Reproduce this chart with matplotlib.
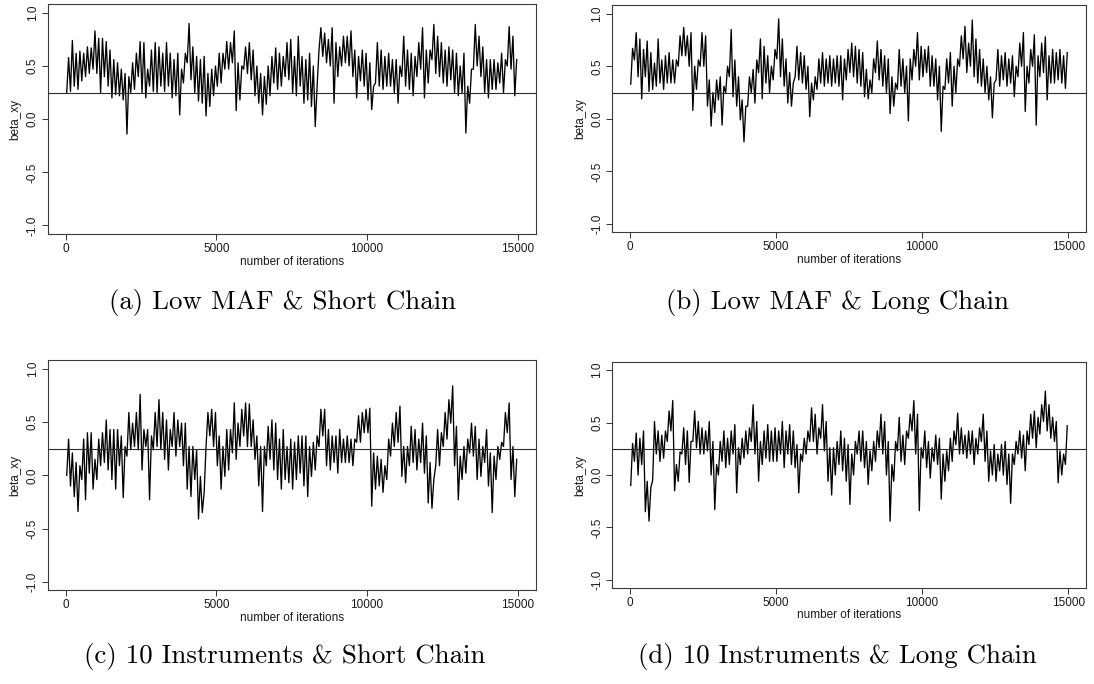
import numpy as np
import matplotlib
matplotlib.use("Agg")
import matplotlib.pyplot as plt

plt.rcParams['font.family'] = ['Liberation Sans', 'DejaVu Sans']

# ---- data: per 125-iteration window, lowest and highest value of the chain ----
bin_start = list(range(0, 15000, 125))

a_low = [0.25, 0.26, 0.31, 0.28, 0.36, 0.40, 0.43, 0.47, 0.43, 0.25,
         0.40, 0.31, 0.20, 0.23, 0.22, 0.18, -0.14, 0.25, 0.28, 0.40,
         0.25, 0.20, 0.31, 0.26, 0.25, 0.31, 0.26, 0.31, 0.20, 0.22,
         0.04, 0.34, 0.53, 0.37, 0.25, 0.17, 0.15, 0.03, 0.12, 0.22,
         0.31, 0.34, 0.47, 0.47, 0.53, 0.08, 0.18, 0.47, 0.43, 0.37,
         0.22, 0.15, 0.04, 0.14, 0.22, 0.34, 0.28, 0.31, 0.40, 0.37,
         0.25, 0.22, 0.31, 0.15, 0.18, 0.12, -0.07, 0.65, 0.59, 0.53,
         0.50, 0.15, 0.40, 0.50, 0.53, 0.50, 0.40, 0.20, 0.36, 0.31,
         0.18, 0.09, 0.34, 0.31, 0.28, 0.31, 0.31, 0.25, 0.15, 0.40,
         0.31, 0.28, 0.22, 0.40, 0.47, 0.20, 0.34, 0.56, 0.43, 0.40,
         0.34, 0.31, 0.37, 0.25, 0.22, 0.25, -0.13, 0.15, 0.47, 0.50,
         0.40, 0.25, 0.20, 0.28, 0.28, 0.34, 0.25, 0.50, 0.47, 0.22]
a_high = [0.58, 0.74, 0.62, 0.64, 0.62, 0.68, 0.67, 0.83, 0.76, 0.76,
          0.73, 0.65, 0.56, 0.53, 0.47, 0.43, 0.40, 0.53, 0.62, 0.73,
          0.72, 0.47, 0.65, 0.72, 0.68, 0.62, 0.72, 0.62, 0.56, 0.62,
          0.47, 0.62, 0.90, 0.68, 0.59, 0.56, 0.59, 0.43, 0.47, 0.50,
          0.62, 0.62, 0.73, 0.72, 0.83, 0.53, 0.50, 0.68, 0.72, 0.65,
          0.50, 0.43, 0.40, 0.50, 0.59, 0.67, 0.62, 0.59, 0.72, 0.75,
          0.59, 0.78, 0.59, 0.56, 0.62, 0.50, 0.31, 0.86, 0.81, 0.75,
          0.86, 0.72, 0.68, 0.78, 0.78, 0.83, 0.65, 0.59, 0.65, 0.62,
          0.53, 0.31, 0.72, 0.65, 0.59, 0.62, 0.56, 0.56, 0.50, 0.78,
          0.65, 0.62, 0.59, 0.72, 0.86, 0.65, 0.65, 0.89, 0.78, 0.72,
          0.65, 0.68, 0.65, 0.62, 0.50, 0.62, 0.31, 0.47, 0.89, 0.78,
          0.68, 0.56, 0.56, 0.56, 0.53, 0.62, 0.56, 0.87, 0.78, 0.56]

b_low = [0.33, 0.56, 0.40, 0.19, 0.40, 0.26, 0.28, 0.31, 0.34, 0.28,
         0.34, 0.34, 0.34, 0.50, 0.60, 0.60, 0.50, 0.08, 0.28, 0.50,
         0.50, 0.12, -0.07, 0.06, 0.18, -0.06, 0.25, 0.40, 0.21, 0.12,
         -0.01, -0.22, 0.12, 0.25, 0.15, 0.44, 0.19, 0.34, 0.25, 0.37,
         0.57, 0.40, 0.31, 0.15, 0.12, 0.40, 0.37, 0.34, 0.28, 0.02,
         0.18, 0.28, 0.34, 0.31, 0.34, 0.31, 0.34, 0.31, 0.18, 0.37,
         0.44, 0.40, 0.34, 0.31, 0.21, 0.19, 0.25, 0.44, 0.37, 0.31,
         0.25, 0.05, 0.12, 0.28, 0.31, 0.25, -0.02, 0.37, 0.50, 0.37,
         0.40, 0.44, 0.31, 0.31, 0.18, -0.12, 0.28, 0.34, 0.12, 0.25,
         0.50, 0.57, 0.44, 0.50, 0.40, 0.34, 0.31, 0.25, 0.18, 0.01,
         0.37, 0.31, 0.37, 0.31, 0.34, 0.21, 0.40, 0.50, 0.07, 0.34,
         0.50, -0.06, 0.40, 0.44, 0.18, 0.34, 0.34, 0.37, 0.34, 0.29]
b_high = [0.67, 0.82, 0.76, 0.66, 0.74, 0.63, 0.53, 0.76, 0.56, 0.60,
          0.63, 0.56, 0.56, 0.79, 0.87, 0.79, 0.82, 0.50, 0.56, 0.82,
          0.79, 0.37, 0.25, 0.37, 0.40, 0.31, 0.50, 0.85, 0.56, 0.40,
          0.18, 0.12, 0.40, 0.47, 0.56, 0.76, 0.69, 0.60, 0.50, 0.66,
          0.95, 0.76, 0.57, 0.44, 0.34, 0.69, 0.63, 0.60, 0.50, 0.34,
          0.40, 0.57, 0.63, 0.57, 0.60, 0.57, 0.60, 0.60, 0.57, 0.66,
          0.72, 0.69, 0.66, 0.63, 0.47, 0.37, 0.57, 0.74, 0.66, 0.60,
          0.57, 0.40, 0.34, 0.66, 0.57, 0.50, 0.57, 0.66, 0.82, 0.69,
          0.66, 0.69, 0.60, 0.57, 0.50, 0.31, 0.57, 0.63, 0.50, 0.57,
          0.79, 0.88, 0.72, 0.94, 0.76, 0.66, 0.57, 0.50, 0.40, 0.34,
          0.66, 0.60, 0.63, 0.57, 0.60, 0.50, 0.72, 0.82, 0.50, 0.66,
          0.80, 0.60, 0.72, 0.78, 0.60, 0.66, 0.63, 0.66, 0.60, 0.63]

c_low = [0.00, -0.10, -0.20, -0.34, -0.04, -0.23, 0.02, -0.13, -0.04, 0.09,
         0.12, 0.05, -0.04, -0.13, 0.09, -0.21, 0.18, 0.24, 0.27, 0.24,
         0.05, 0.27, -0.23, 0.24, 0.27, 0.24, 0.15, 0.05, 0.27, 0.18,
         0.27, 0.09, -0.13, -0.20, -0.04, -0.41, -0.35, 0.27, 0.37, 0.27,
         0.09, -0.13, -0.01, 0.05, 0.21, 0.15, 0.27, 0.37, 0.27, 0.27,
         0.15, -0.10, -0.34, 0.09, 0.15, 0.05, -0.04, -0.13, -0.04, -0.07,
         -0.13, -0.04, 0.02, -0.10, -0.20, -0.01, 0.05, 0.27, 0.37, 0.09,
         0.05, 0.12, 0.02, 0.12, 0.12, 0.12, 0.09, 0.31, 0.31, 0.40,
         0.40, -0.29, -0.13, -0.10, -0.16, -0.04, 0.18, 0.27, 0.31, -0.01,
         -0.07, 0.09, 0.12, 0.05, 0.12, 0.02, -0.26, -0.31, 0.09, 0.09,
         0.27, 0.34, 0.49, 0.09, -0.23, -0.04, 0.02, 0.21, 0.18, -0.04,
         -0.01, 0.12, -0.10, -0.35, -0.04, 0.15, 0.27, 0.40, -0.04, -0.20]
c_high = [0.34, 0.21, 0.12, 0.09, 0.34, 0.40, 0.40, 0.15, 0.34, 0.40,
          0.52, 0.43, 0.43, 0.43, 0.37, 0.27, 0.59, 0.49, 0.59, 0.76,
          0.43, 0.43, 0.37, 0.59, 0.71, 0.59, 0.52, 0.43, 0.59, 0.52,
          0.49, 0.49, 0.27, 0.27, 0.24, -0.01, -0.16, 0.59, 0.62, 0.59,
          0.37, 0.27, 0.43, 0.43, 0.68, 0.49, 0.62, 0.68, 0.67, 0.52,
          0.37, 0.27, 0.27, 0.46, 0.52, 0.49, 0.34, 0.43, 0.27, 0.34,
          0.31, 0.37, 0.37, 0.37, 0.27, 0.31, 0.37, 0.62, 0.62, 0.43,
          0.37, 0.37, 0.43, 0.34, 0.37, 0.34, 0.34, 0.56, 0.59, 0.62,
          0.63, 0.21, 0.18, 0.15, 0.09, 0.34, 0.49, 0.59, 0.65, 0.27,
          0.27, 0.46, 0.43, 0.34, 0.49, 0.37, 0.12, -0.04, 0.43, 0.40,
          0.59, 0.71, 0.84, 0.46, 0.18, 0.27, 0.34, 0.49, 0.46, 0.34,
          0.27, 0.43, 0.21, 0.18, 0.27, 0.31, 0.59, 0.68, 0.27, 0.15]

d_low = [-0.10, 0.13, 0.00, 0.10, -0.35, -0.44, -0.05, 0.20, 0.13, 0.16,
         0.32, 0.42, -0.15, -0.06, 0.20, 0.10, -0.07, 0.32, 0.26, 0.20,
         0.20, 0.23, 0.00, -0.33, 0.00, 0.13, 0.07, 0.10, 0.20, -0.17,
         0.10, 0.16, 0.20, 0.32, 0.20, -0.06, 0.10, 0.16, 0.13, 0.13,
         0.13, 0.20, 0.07, 0.20, 0.10, 0.07, -0.17, 0.13, 0.20, 0.32,
         0.32, 0.20, 0.35, 0.23, -0.06, -0.19, 0.00, 0.10, 0.04, -0.06,
         -0.28, 0.00, 0.20, 0.13, 0.07, -0.09, 0.04, 0.13, 0.26, 0.20,
         0.00, -0.44, -0.06, 0.23, 0.13, 0.10, 0.35, 0.42, 0.20, -0.34,
         0.16, 0.07, -0.03, 0.13, 0.10, -0.23, -0.06, 0.04, 0.13, 0.29,
         0.20, 0.20, 0.16, 0.20, 0.10, 0.20, 0.32, 0.13, -0.06, 0.00,
         -0.06, 0.04, 0.00, -0.09, -0.27, 0.10, 0.20, 0.16, 0.04, 0.29,
         0.35, 0.26, 0.39, 0.51, 0.42, 0.35, 0.32, -0.075, 0.00, 0.10]
d_high = [0.30, 0.40, 0.35, 0.42, -0.06, -0.12, 0.51, 0.42, 0.38, 0.42,
          0.61, 0.71, 0.10, 0.22, 0.45, 0.42, 0.32, 0.61, 0.51, 0.45,
          0.42, 0.51, 0.32, 0.10, 0.32, 0.42, 0.35, 0.42, 0.48, 0.26,
          0.35, 0.42, 0.45, 0.67, 0.51, 0.32, 0.42, 0.48, 0.42, 0.45,
          0.42, 0.51, 0.42, 0.48, 0.42, 0.29, 0.20, 0.35, 0.42, 0.64,
          0.58, 0.45, 0.67, 0.51, 0.26, 0.26, 0.32, 0.42, 0.35, 0.29,
          0.20, 0.32, 0.42, 0.42, 0.32, 0.23, 0.32, 0.42, 0.58, 0.51,
          0.32, 0.10, 0.32, 0.55, 0.38, 0.42, 0.58, 0.71, 0.58, 0.26,
          0.42, 0.32, 0.26, 0.38, 0.35, 0.20, 0.23, 0.35, 0.42, 0.59,
          0.45, 0.38, 0.42, 0.42, 0.35, 0.45, 0.58, 0.42, 0.23, 0.29,
          0.20, 0.29, 0.32, 0.20, 0.20, 0.32, 0.42, 0.38, 0.42, 0.58,
          0.61, 0.55, 0.67, 0.80, 0.67, 0.55, 0.51, 0.23, 0.20, 0.47]

true_beta = 0.245

captions = ["(a) Low MAF & Short Chain", "(b) Low MAF & Long Chain",
            "(c) 10 Instruments & Short Chain", "(d) 10 Instruments & Long Chain"]
x_ticks = [0, 5000, 10000, 15000]
x_tick_labels = ["0", "5000", "10000", "15000"]
y_ticks = [-1.0, -0.5, 0.0, 0.5, 1.0]
y_tick_labels = ["-1.0", "-0.5", "0.0", "0.5", "1.0"]
x_label = "number of iterations"
y_label = "beta_xy"

W, H = 1094, 684
fig = plt.figure(figsize=(W / 100, H / 100), dpi=100)

# axes boxes in pixels: left, top, right, bottom
boxes = [(47.7, 4.3, 535.7, 234.0), (612.3, 5.3, 1085.7, 232.3),
         (47.7, 360.3, 535.7, 590.3), (612.3, 361.7, 1085.7, 588.3)]
caption_pos = [(282.5, 302), (838, 302), (285, 657), (837.5, 657)]

series = [(a_low, a_high), (b_low, b_high), (c_low, c_high), (d_low, d_high)]
spine_col = '#3a3a3a'
half = (bin_start[1] - bin_start[0]) / 4

for (l, t, r, b), (lo, hi), cap, (cx, cy) in zip(boxes, series, captions, caption_pos):
    ax = fig.add_axes([l / W, (H - b) / H, (r - l) / W, (b - t) / H])
    xs, ys = [], []
    for s, vlo, vhi in zip(bin_start, lo, hi):
        xs += [s + half, s + 3 * half]
        ys += [vlo, vhi]
    ax.plot(xs, ys, color='black', lw=0.95)
    ax.axhline(true_beta, color='#2a2a2a', lw=0.8)
    ax.set_xlim(-600, 15600)
    ax.set_ylim(-1.08, 1.08)
    ax.set_xticks(x_ticks)
    ax.set_xticklabels(x_tick_labels)
    ax.set_yticks(y_ticks)
    ax.set_yticklabels(y_tick_labels, rotation=90, va='center')
    ax.tick_params(direction='out', length=4.5, width=0.75, colors=spine_col,
                   labelcolor='#1a1a1a', labelsize=8.5, pad=2)
    for sp in ax.spines.values():
        sp.set_color(spine_col)
        sp.set_linewidth(0.8)
    ax.text(0.5, -0.12, x_label, transform=ax.transAxes, ha='center', va='center',
            fontsize=8.5, color='#1a1a1a')
    ax.text(-0.067, 0.5, y_label, transform=ax.transAxes, ha='center', va='center',
            rotation=90, fontsize=8.5, color='#1a1a1a')
    fig.text(cx / W, 1 - cy / H, cap, ha='center', va='center', fontsize=19.4,
             family='cmr10', color='black')

fig.savefig('out.png', dpi=100)
